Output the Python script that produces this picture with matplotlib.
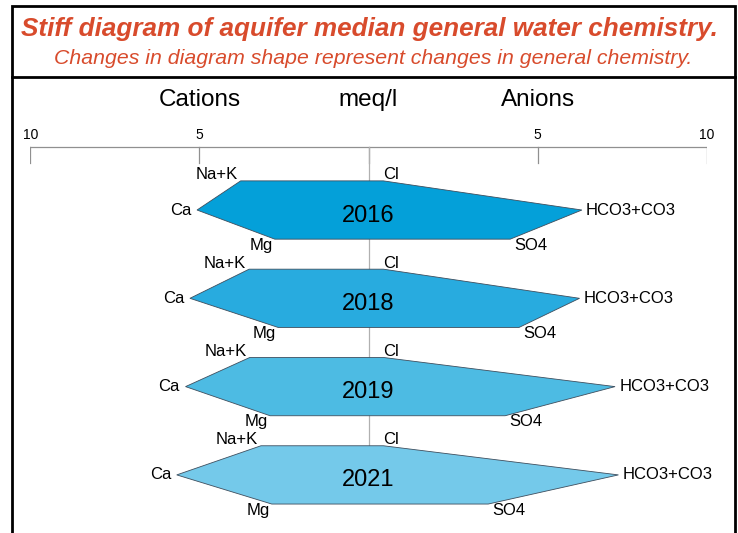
import matplotlib
matplotlib.use('Agg')
import matplotlib.pyplot as plt
from matplotlib.patches import Polygon, Rectangle
from matplotlib.lines import Line2D

plt.rcParams['font.family'] = ['Liberation Sans', 'DejaVu Sans']

# median meq/l per year
years = ['2016', '2018', '2019', '2021']
na_k = [3.78, 3.53, 3.51, 3.18]
ca = [5.07, 5.28, 5.41, 5.67]
mg = [2.77, 2.67, 2.91, 2.86]
cl = [0.44, 0.44, 0.44, 0.44]
hco3_co3 = [6.31, 6.24, 7.29, 7.39]
so4 = [4.19, 4.45, 4.04, 3.54]
fills = ['#04A0D9', '#28ABDF', '#4DBBE3', '#74C9EA']

tick_vals = [-10, -5, 0, 5, 10]
tick_labels = ['10', '5', '', '5', '10']

title = 'Stiff diagram of aquifer median general water chemistry.'
subtitle = 'Changes in diagram shape represent changes in general chemistry.'
red = '#D84B2C'

W, H = 738, 533
fig = plt.figure(figsize=(W / 100, H / 100), dpi=100)


def fx(px):
    return px / W


def fy(py):
    return 1 - py / H


# frames
fig.patches.append(Rectangle((fx(11.5), fy(77)), fx(734.5) - fx(11.5), fy(5.5) - fy(77),
                             transform=fig.transFigure, fill=False, ec='black', lw=2))
for x in (11.5, 734.5):
    fig.lines.append(Line2D([fx(x), fx(x)], [fy(77), 0], transform=fig.transFigure,
                            color='black', lw=2))

fig.text(fx(369), fy(29), title, ha='center', va='center', color=red,
         fontsize=18.8, fontweight='bold', fontstyle='italic')
fig.text(fx(373.5), fy(58), subtitle, ha='center', va='center', color=red,
         fontsize=15.3, fontstyle='italic')

ax = fig.add_axes([fx(30.3), 0, fx(706.7) - fx(30.3), (H - 140) / H])
ax.set_xlim(-10, 10)
ax.set_ylim(3.658, -0.793)
ax.axis('off')

half = 0.33
axis_y = -0.717
tick_len = 0.185

# scale bar
ax.plot([tick_vals[0], tick_vals[-1]], [axis_y, axis_y], color='#909090', lw=0.9, zorder=1)
for v, lab in zip(tick_vals, tick_labels):
    ax.plot([v, v], [axis_y, axis_y + tick_len], color='#909090', lw=0.9, zorder=1)
    ax.text(v, -0.85, lab, ha='center', va='center', fontsize=10, clip_on=False)
ax.plot([0, 0], [axis_y, len(years) - 1], color='#B0B0B0', lw=0.9, zorder=1)

ax.text(-5, -1.245, 'Cations', ha='center', va='center', fontsize=17.5, clip_on=False)
ax.text(0, -1.245, 'meq/l', ha='center', va='center', fontsize=17.5, clip_on=False)
ax.text(5, -1.245, 'Anions', ha='center', va='center', fontsize=17.5, clip_on=False)

lab_kw = dict(textcoords='offset points', fontsize=12, clip_on=False)
for i, yr in enumerate(years):
    top, mid, bot = i - half, i, i + half
    pts = [(-na_k[i], top), (cl[i], top), (hco3_co3[i], mid),
           (so4[i], bot), (-mg[i], bot), (-ca[i], mid)]
    ax.add_patch(Polygon(pts, closed=True, fc=fills[i], ec='#3E4E5E', lw=0.6, zorder=2))
    ax.annotate('Na+K', (-na_k[i], top), xytext=(-2, -1), ha='right', va='bottom', **lab_kw)
    ax.annotate('Ca', (-ca[i], mid), xytext=(-4, 0), ha='right', va='center', **lab_kw)
    ax.annotate('Mg', (-mg[i], bot), xytext=(-1.5, 1), ha='right', va='top', **lab_kw)
    ax.annotate('Cl', (cl[i], top), xytext=(0, -1), ha='left', va='bottom', **lab_kw)
    ax.annotate('HCO3+CO3', (hco3_co3[i], mid), xytext=(3, 0), ha='left', va='center', **lab_kw)
    ax.annotate('SO4', (so4[i], bot), xytext=(3, 1), ha='left', va='top', **lab_kw)
    ax.annotate(yr, (0, mid), xytext=(0, -4), textcoords='offset points',
                ha='center', va='center', fontsize=17, zorder=3)

fig.savefig('out.png', dpi=100)
